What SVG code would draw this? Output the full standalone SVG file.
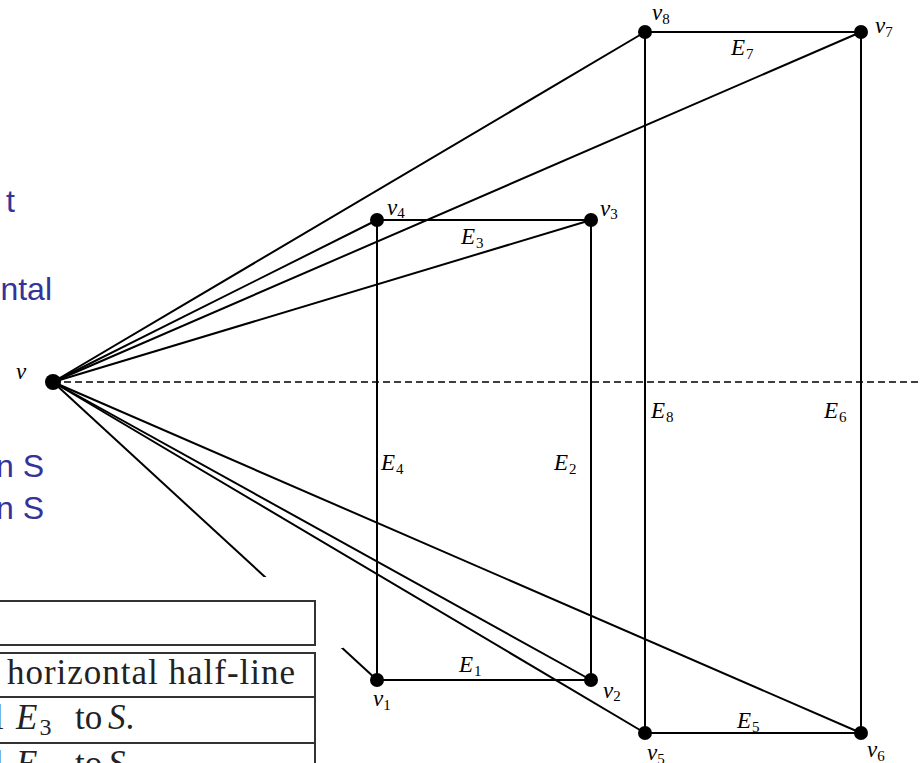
<svg xmlns="http://www.w3.org/2000/svg" width="920" height="763" viewBox="0 0 920 763">
<style>
.ray{stroke:#000;stroke-width:2;fill:none}
.edge{stroke:#000;stroke-width:2;fill:none}
.dash{stroke:#000;stroke-width:1.6;stroke-dasharray:7 4;fill:none}
.dot{fill:#000}
.lbl{font-family:"Liberation Serif",serif;font-style:italic;font-size:23px;fill:#000}
.sub{font-size:15px;font-style:normal}
.blue{font-family:"Liberation Sans",Arial,sans-serif;font-size:32px;fill:#333399;text-anchor:end}
.tbl{font-family:"Liberation Serif",serif;font-size:35px;fill:#222}
.box{fill:#fff;stroke:#333;stroke-width:2}
</style>
<rect width="920" height="763" fill="#fff"/>
<g id="bullet-text">
<text class="blue" x="15" y="212">t</text>
<text class="blue" x="52" y="300">ntal</text>
<text class="blue" x="44" y="477">n S</text>
<text class="blue" x="44" y="519">n S</text>
</g>
<g id="connectors">
<line class="dash" x1="53" y1="382" x2="920" y2="382"/>
<line class="ray" x1="53" y1="382" x2="377" y2="220"/>
<line class="ray" x1="53" y1="382" x2="591" y2="220"/>
<line class="ray" x1="53" y1="382" x2="645" y2="32"/>
<line class="ray" x1="53" y1="382" x2="861" y2="32"/>
<line class="ray" x1="53" y1="382" x2="377" y2="680"/>
<line class="ray" x1="53" y1="382" x2="591" y2="680"/>
<line class="ray" x1="53" y1="382" x2="645" y2="733"/>
<line class="ray" x1="53" y1="382" x2="861" y2="733"/>
<line class="edge" x1="377" y1="220" x2="591" y2="220"/>
<line class="edge" x1="591" y1="220" x2="591" y2="680"/>
<line class="edge" x1="591" y1="680" x2="377" y2="680"/>
<line class="edge" x1="377" y1="680" x2="377" y2="220"/>
<line class="edge" x1="645" y1="32" x2="861" y2="32"/>
<line class="edge" x1="861" y1="32" x2="861" y2="733"/>
<line class="edge" x1="861" y1="733" x2="645" y2="733"/>
<line class="edge" x1="645" y1="733" x2="645" y2="32"/>
<text class="lbl" x="461" y="244">E<tspan class="sub" dx="1" dy="4">3</tspan></text>
<text class="lbl" x="554" y="470">E<tspan class="sub" dx="1" dy="4">2</tspan></text>
<text class="lbl" x="459" y="672">E<tspan class="sub" dx="1" dy="4">1</tspan></text>
<text class="lbl" x="381" y="470">E<tspan class="sub" dx="1" dy="4">4</tspan></text>
<text class="lbl" x="731" y="55">E<tspan class="sub" dx="1" dy="4">7</tspan></text>
<text class="lbl" x="824" y="418">E<tspan class="sub" dx="1" dy="4">6</tspan></text>
<text class="lbl" x="737" y="728">E<tspan class="sub" dx="1" dy="4">5</tspan></text>
<text class="lbl" x="651" y="418">E<tspan class="sub" dx="1" dy="4">8</tspan></text>
</g>
<g id="n-v"><circle class="dot" cx="53" cy="382" r="8"/><text class="lbl" x="16" y="379">v</text></g>
<g id="n-v1"><circle class="dot" cx="377" cy="680" r="7"/><text class="lbl" x="373" y="706">v<tspan class="sub" dy="4">1</tspan></text></g>
<g id="n-v2"><circle class="dot" cx="591" cy="680" r="7"/><text class="lbl" x="603" y="698">v<tspan class="sub" dy="3">2</tspan></text></g>
<g id="n-v3"><circle class="dot" cx="591" cy="220" r="7"/><text class="lbl" x="600" y="216">v<tspan class="sub" dy="3">3</tspan></text></g>
<g id="n-v4"><circle class="dot" cx="377" cy="220" r="7"/><text class="lbl" x="387" y="215">v<tspan class="sub" dy="3">4</tspan></text></g>
<g id="n-v5"><circle class="dot" cx="645" cy="733" r="7"/><text class="lbl" x="647" y="760">v<tspan class="sub" dy="4">5</tspan></text></g>
<g id="n-v6"><circle class="dot" cx="861" cy="733" r="7"/><text class="lbl" x="867" y="757">v<tspan class="sub" dy="4">6</tspan></text></g>
<g id="n-v7"><circle class="dot" cx="861" cy="32" r="7"/><text class="lbl" x="875" y="33">v<tspan class="sub" dy="4">7</tspan></text></g>
<g id="n-v8"><circle class="dot" cx="645" cy="32" r="7"/><text class="lbl" x="652" y="20">v<tspan class="sub" dy="4">8</tspan></text></g>
<g id="table">
<rect x="0" y="577" width="343" height="71" fill="#fff"/>
<rect class="box" x="-10" y="601" width="325" height="44"/>
<rect class="box" x="-10" y="653" width="325" height="44"/>
<rect class="box" x="-10" y="697" width="325" height="46"/>
<rect class="box" x="-10" y="743" width="325" height="40"/>
<text class="tbl" x="7" y="684" textLength="288" lengthAdjust="spacing">horizontal half-line</text>
<text class="tbl" x="-6" y="729">l</text>
<text class="tbl" x="16" y="729" font-style="italic">E<tspan font-size="24" font-style="normal" dx="2" dy="6">3</tspan></text>
<text class="tbl" x="75" y="729">to</text>
<text class="tbl" x="108" y="729"><tspan font-style="italic">S</tspan>.</text>
<text class="tbl" x="-6" y="775">l</text>
<text class="tbl" x="16" y="775" font-style="italic">E<tspan font-size="24" font-style="normal" dx="2" dy="6">5</tspan></text>
<text class="tbl" x="75" y="775">to</text>
<text class="tbl" x="108" y="775"><tspan font-style="italic">S</tspan>.</text>
</g>
</svg>
